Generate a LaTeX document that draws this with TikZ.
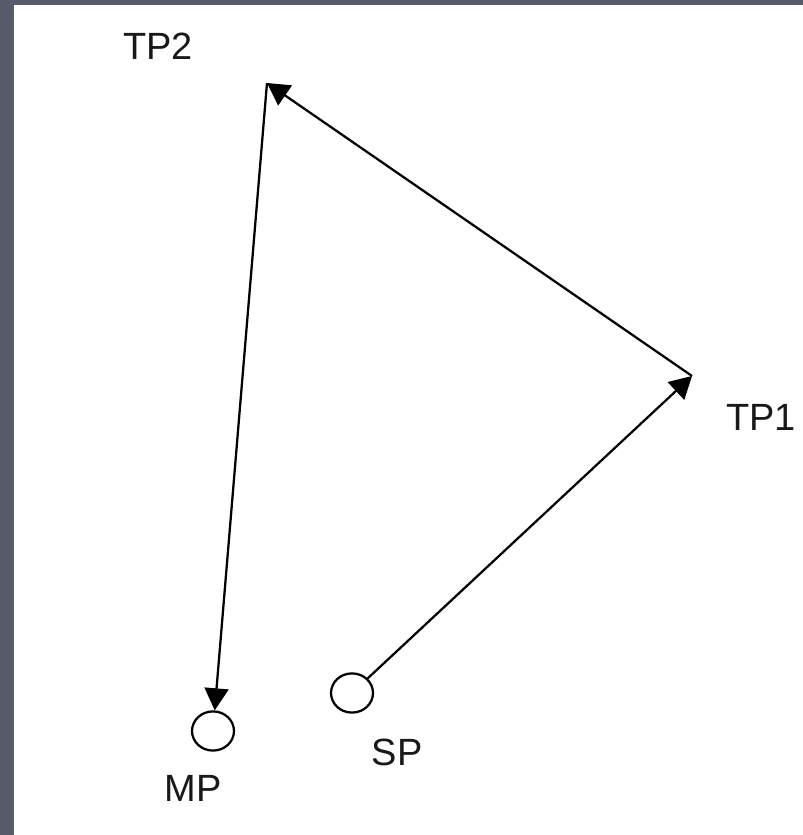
\documentclass[tikz,border=0pt]{standalone}
\usepackage{fontspec}
\setmainfont{Liberation Sans}
\usetikzlibrary{arrows.meta, positioning, shapes.geometric}
\definecolor{frame}{HTML}{575A6B}

\begin{document}
\begin{tikzpicture}[
  point/.style={draw, ellipse, line width=1.6pt, minimum width=1.05cm, minimum height=0.98cm, inner sep=0pt},
  tag/.style={font=\fontsize{27}{32}\selectfont, text=black!90, inner sep=0pt},
  link/.style={line width=1.6pt},
  >={Triangle[length=0.55cm, width=0.6cm]}
]
% backdrop
\fill[frame] (0,0) rectangle (20.075,20.875);
\fill[white] (0.35,0) rectangle (20.075,20.75);
\useasboundingbox (0,0) rectangle (20.075,20.875);

% turning points
\coordinate (tp2) at (6.675,18.8);
\coordinate (tp1) at (17.3,11.475);
\node[point] (sp) at (8.8,3.55) {};
\node[point] (mp) at (5.325,2.6) {};

% labels
\node[tag] (tp2lbl) at (3.95,19.725) {TP2};
\node[tag] (tp1lbl) at (19.025,10.45) {TP1};
\node[tag] (splbl) at (9.925,2.075) {SP};
\node[tag] (mplbl) at (4.825,1.175) {MP};

% path
\draw[link,->] (sp) -- (tp1);
\draw[link,->] (tp1) -- (tp2);
\draw[link,->] (tp2) -- (mp);
\end{tikzpicture}
\end{document}
